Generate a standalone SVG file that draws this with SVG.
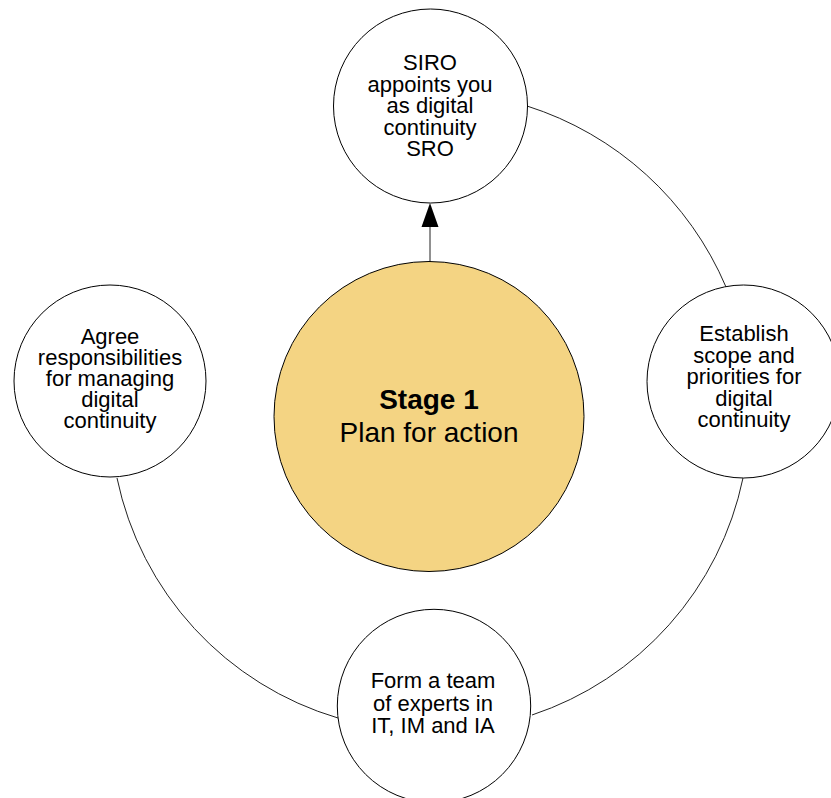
<svg xmlns="http://www.w3.org/2000/svg" width="831" height="798" viewBox="0 0 831 798">
<style>
.n{fill:#ffffff;stroke:#000000;stroke-width:1}
.c{fill:#F4D483;stroke:#000000;stroke-width:1}
.t{font-family:"Liberation Sans",Arial,sans-serif;font-size:22px;fill:#000000;text-anchor:middle}
.b{font-family:"Liberation Sans",Arial,sans-serif;font-size:28px;fill:#000000;text-anchor:middle}
.e{fill:none;stroke:#222222;stroke-width:1}
</style>
<rect width="831" height="798" fill="#ffffff"/>
<g id="connectors">
<path class="e" d="M527,106 A322,322 0 0 1 726,287"/>
<path class="e" d="M743,478 A318,318 0 0 1 532,715"/>
<path class="e" d="M338,718 A318,318 0 0 1 117,478"/>
<line class="e" x1="430" y1="262" x2="430" y2="226"/>
<polygon points="430,203 421.5,227 438.5,227" fill="#000000"/>
</g>
<g id="stage1">
<circle class="c" cx="429" cy="416.5" r="155"/>
<text class="b" x="429" y="409" font-weight="bold">Stage 1</text>
<text class="b" x="429" y="442">Plan for action</text>
</g>
<g id="siro">
<circle class="n" cx="430.5" cy="106" r="97"/>
<text class="t" x="430" y="70">SIRO</text>
<text class="t" x="430" y="91.5">appoints you</text>
<text class="t" x="430" y="113">as digital</text>
<text class="t" x="430" y="134.5">continuity</text>
<text class="t" x="430" y="156">SRO</text>
</g>
<g id="scope">
<circle class="n" cx="743.5" cy="381.5" r="96.5"/>
<text class="t" x="744" y="341">Establish</text>
<text class="t" x="744" y="362.5">scope and</text>
<text class="t" x="744" y="384">priorities for</text>
<text class="t" x="744" y="405.5">digital</text>
<text class="t" x="744" y="427">continuity</text>
</g>
<g id="team">
<circle class="n" cx="434" cy="706" r="96.7"/>
<text class="t" x="433" y="688">Form a team</text>
<text class="t" x="433" y="710.5">of experts in</text>
<text class="t" x="433" y="733">IT, IM and IA</text>
</g>
<g id="responsibilities">
<circle class="n" cx="110" cy="381" r="96"/>
<text class="t" x="110" y="344">Agree</text>
<text class="t" x="110" y="365">responsibilities</text>
<text class="t" x="110" y="386">for managing</text>
<text class="t" x="110" y="407">digital</text>
<text class="t" x="110" y="428">continuity</text>
</g>
</svg>
